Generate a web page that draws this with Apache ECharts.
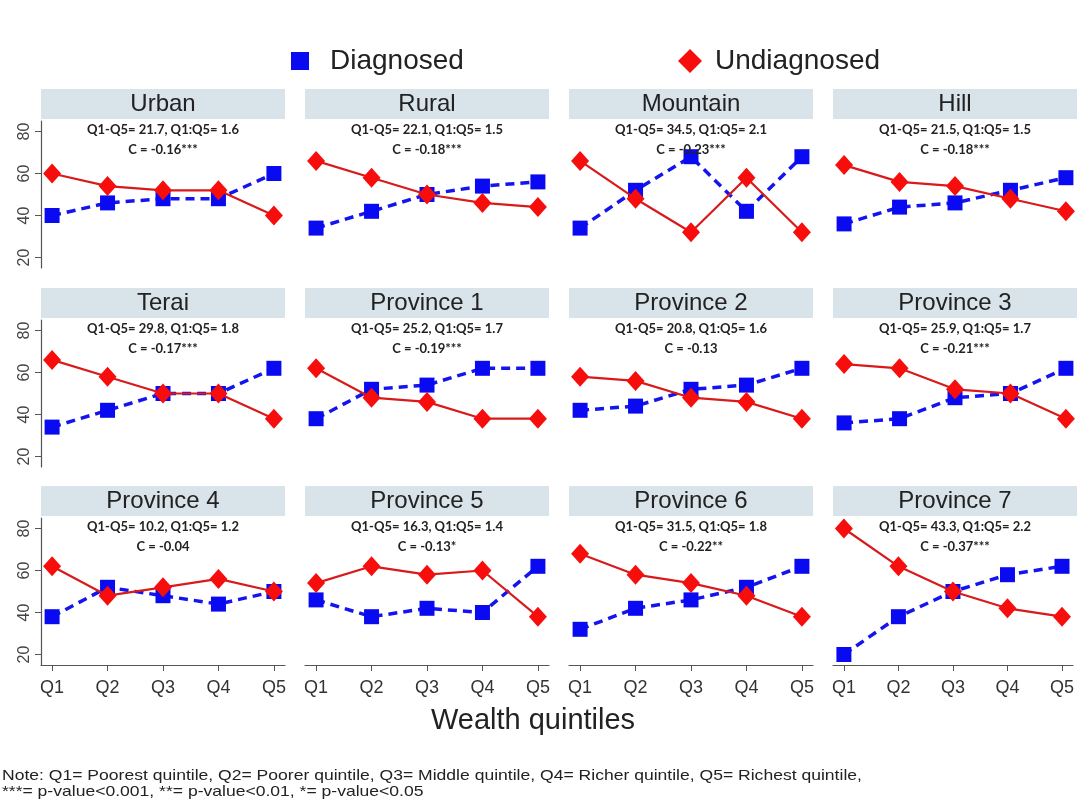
<!DOCTYPE html>
<html>
<head>
<meta charset="utf-8">
<script src="https://cdn.jsdelivr.net/npm/echarts@6/dist/echarts.min.js"></script>
<style>
html,body{margin:0;padding:0;background:#fff;}
#chart{width:1077px;height:804px;}
</style>
</head>
<body>
<div id="chart"></div>
<script>
// ---- data ----
const categories = ['Q1', 'Q2', 'Q3', 'Q4', 'Q5'];
const panelNames = ['Urban', 'Rural', 'Mountain', 'Hill',
  'Terai', 'Province 1', 'Province 2', 'Province 3',
  'Province 4', 'Province 5', 'Province 6', 'Province 7'];
const diagnosed = [
  [40, 46, 48, 48, 60],
  [34, 42, 50, 54, 56],
  [34, 52, 68, 42, 68],
  [36, 44, 46, 52, 58],
  [34, 42, 50, 50, 62],
  [38, 52, 54, 62, 62],
  [42, 44, 52, 54, 62],
  [36, 38, 48, 50, 62],
  [38, 52, 48, 44, 50],
  [46, 38, 42, 40, 62],
  [32, 42, 46, 52, 62],
  [20, 38, 50, 58, 62]
];
const undiagnosed = [
  [60, 54, 52, 52, 40],
  [66, 58, 50, 46, 44],
  [66, 48, 32, 58, 32],
  [64, 56, 54, 48, 42],
  [66, 58, 50, 50, 38],
  [62, 48, 46, 38, 38],
  [58, 56, 48, 46, 38],
  [64, 62, 52, 50, 38],
  [62, 48, 52, 56, 50],
  [54, 62, 58, 60, 38],
  [68, 58, 54, 48, 38],
  [80, 62, 50, 42, 38]
];
const gapText = [
  'Q1-Q5= 21.7, Q1:Q5= 1.6', 'Q1-Q5= 22.1, Q1:Q5= 1.5', 'Q1-Q5= 34.5, Q1:Q5= 2.1', 'Q1-Q5= 21.5, Q1:Q5= 1.5',
  'Q1-Q5= 29.8, Q1:Q5= 1.8', 'Q1-Q5= 25.2, Q1:Q5= 1.7', 'Q1-Q5= 20.8, Q1:Q5= 1.6', 'Q1-Q5= 25.9, Q1:Q5= 1.7',
  'Q1-Q5= 10.2, Q1:Q5= 1.2', 'Q1-Q5= 16.3, Q1:Q5= 1.4', 'Q1-Q5= 31.5, Q1:Q5= 1.8', 'Q1-Q5= 43.3, Q1:Q5= 2.2'
];
const cText = [
  'C = -0.16***', 'C = -0.18***', 'C = -0.23***', 'C = -0.18***',
  'C = -0.17***', 'C = -0.19***', 'C = -0.13', 'C = -0.21***',
  'C = -0.04', 'C = -0.13*', 'C = -0.22**', 'C = -0.37***'
];
const yTicks = [20, 40, 60, 80];
const xTitle = 'Wealth quintiles';
const noteLines = [
  'Note: Q1= Poorest quintile, Q2= Poorer quintile, Q3= Middle quintile, Q4= Richer quintile, Q5= Richest quintile,',
  '***= p-value<0.001, **= p-value<0.01, *= p-value<0.05'
];

// ---- layout ----
const colLeft = [41, 305, 569, 833];
const rowTop = [121, 320, 518];
const gw = 244, gh = 147;
const xPos = categories.map((c, i) => i + 1);
const FONT = '"Liberation Sans", Arial, sans-serif';

const grids = [], xAxes = [], yAxes = [], series = [], graphics = [];
panelNames.forEach((name, p) => {
  const r = Math.floor(p / 4), c = p % 4;
  const left = colLeft[c], top = rowTop[r];
  grids.push({left: left, top: top, width: gw, height: gh, containLabel: false});
  const bottomRow = r === 2;
  xAxes.push({
    type: 'value', gridIndex: p, min: 0.8, max: 5.2,
    axisLine: {show: bottomRow, onZero: false, lineStyle: {color: '#555', width: 1.2}},
    axisTick: {show: bottomRow, customValues: xPos, length: 6, lineStyle: {color: '#555'}},
    axisLabel: {show: bottomRow, customValues: xPos, fontSize: 18, color: '#333',
      fontFamily: FONT, margin: 14,
      formatter: v => categories[Math.round(v) - 1] || ''},
    splitLine: {show: false}
  });
  const firstCol = c === 0;
  yAxes.push({
    type: 'value', gridIndex: p, min: 15, max: 85,
    axisLine: {show: firstCol, lineStyle: {color: '#555', width: 1.2}},
    axisTick: {show: firstCol, customValues: yTicks, length: 6, lineStyle: {color: '#555'}},
    axisLabel: {show: firstCol, customValues: yTicks, rotate: 90, fontSize: 16, color: '#444',
      fontFamily: FONT, margin: 8},
    splitLine: {show: false}
  });
  series.push({
    name: 'Diagnosed', type: 'line', xAxisIndex: p, yAxisIndex: p,
    data: diagnosed[p].map((v, i) => [xPos[i], v]),
    symbol: 'rect', symbolSize: 15,
    itemStyle: {color: '#0a0af2'},
    lineStyle: {color: '#1414ee', width: 3.5, type: [9, 6]},
    z: 2, animation: false
  });
  series.push({
    name: 'Undiagnosed', type: 'line', xAxisIndex: p, yAxisIndex: p,
    data: undiagnosed[p].map((v, i) => [xPos[i], v]),
    symbol: 'diamond', symbolSize: [18, 20],
    itemStyle: {color: '#f80d0d'},
    lineStyle: {color: '#d81a1a', width: 2.2},
    z: 3, animation: false
  });
  // header strip
  graphics.push({type: 'rect', left: left, top: top - 32, z: 0,
    shape: {width: gw, height: 30}, style: {fill: '#d9e3ea'}});
  graphics.push({type: 'text', x: left + gw / 2, y: top - 17, z: 1,
    style: {text: name, fill: '#222', font: '24px ' + FONT,
      textAlign: 'center', textVerticalAlign: 'middle'}});
  graphics.push({type: 'text', x: left + gw / 2, y: top + 9, z: 5,
    style: {text: gapText[p], fill: '#222', font: 'bold 13px Lato, "Open Sans", sans-serif',
      textAlign: 'center', textVerticalAlign: 'middle'}});
  graphics.push({type: 'text', x: left + gw / 2, y: top + 29, z: 5,
    style: {text: cText[p], fill: '#222', font: 'bold 13px Lato, "Open Sans", sans-serif',
      textAlign: 'center', textVerticalAlign: 'middle'}});
});

graphics.push({type: 'text', x: 533, y: 721,
  style: {text: xTitle, fill: '#222', font: '29px ' + FONT,
    textAlign: 'center', textVerticalAlign: 'middle'}});
noteLines.forEach((t, i) => {
  graphics.push({type: 'text', x: 2, y: 776 + i * 16, scaleX: 1.17, originX: 0,
    style: {text: t, fill: '#222', font: '15px ' + FONT,
      textAlign: 'left', textVerticalAlign: 'middle'}});
});

const chart = echarts.init(document.getElementById('chart'), null, {renderer: 'canvas'});
chart.setOption({
  backgroundColor: '#ffffff',
  animation: false,
  legend: [
    {data: [{name: 'Diagnosed', icon: 'rect'}], left: 286, top: 42, itemWidth: 18, itemHeight: 18,
      selectedMode: false,
      textStyle: {fontSize: 28, color: '#222', fontFamily: FONT, padding: [0, 0, 0, 16]}},
    {data: [{name: 'Undiagnosed', icon: 'diamond'}], left: 673, top: 42, itemWidth: 24, itemHeight: 24,
      selectedMode: false,
      textStyle: {fontSize: 28, color: '#222', fontFamily: FONT, padding: [0, 0, 0, 8]}}
  ],
  grid: grids,
  xAxis: xAxes,
  yAxis: yAxes,
  series: series,
  graphic: graphics
});
</script>
</body>
</html>
